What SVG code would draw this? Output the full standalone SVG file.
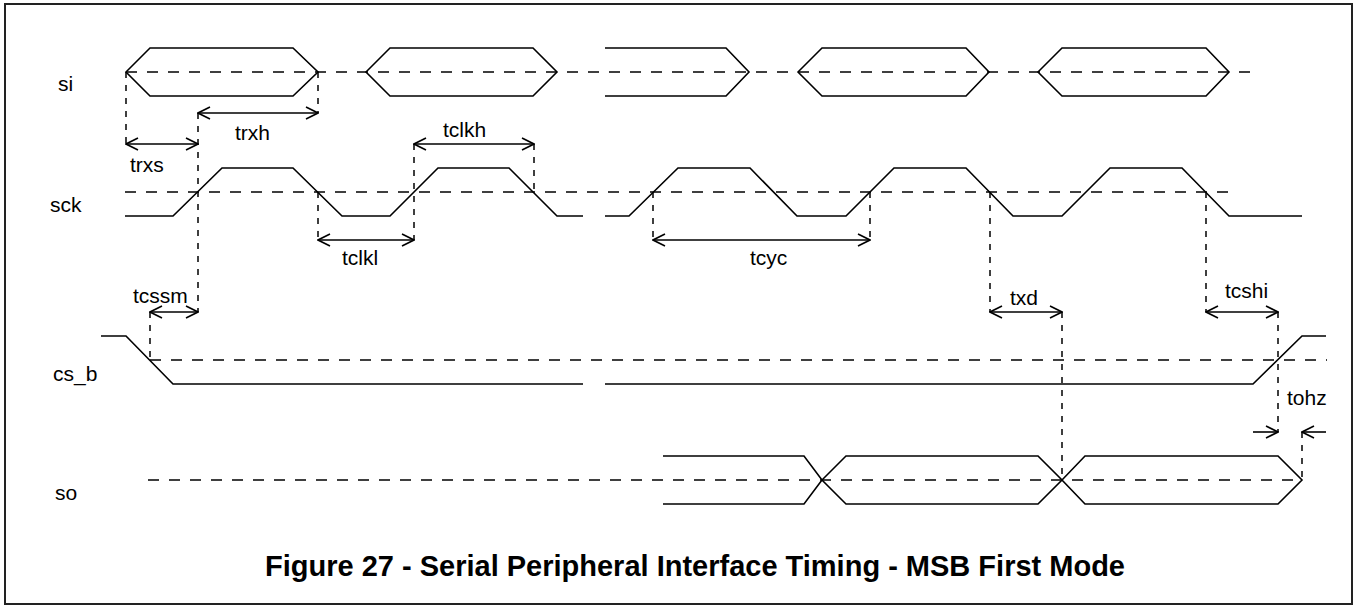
<svg xmlns="http://www.w3.org/2000/svg" width="1356" height="609" viewBox="0 0 1356 609">
<style>
.w{fill:none;stroke:#000;stroke-width:1.6;stroke-linejoin:miter}
.m{fill:none;stroke:#000;stroke-width:1.5;stroke-dasharray:11,10}
.v{fill:none;stroke:#000;stroke-width:1.5;stroke-dasharray:6,7}
.d{fill:none;stroke:#000;stroke-width:1.6}
.l{font-family:"Liberation Sans",Arial,sans-serif;font-size:21px;fill:#000}
.t{font-family:"Liberation Sans",Arial,sans-serif;font-size:29px;font-weight:bold;fill:#000}
</style>
<defs>
<marker id="ah" viewBox="0 0 14 14" refX="13" refY="7" markerWidth="14" markerHeight="14" orient="auto-start-reverse" markerUnits="userSpaceOnUse">
<path d="M1,1 L13,7 L1,13" fill="none" stroke="#000" stroke-width="1.6"/>
</marker>
</defs>
<rect x="5" y="4" width="1347" height="600" fill="#fff" stroke="#222" stroke-width="2"/>

<g id="sig-si">
<line class="m" x1="126" y1="72" x2="1255" y2="72"/>
<polygon class="w" points="126,72 150,48 293,48 318,72 293,96 150,96"/>
<polygon class="w" points="366,72 390,48 533,48 557,72 533,96 390,96"/>
<polyline class="w" points="605,48 726,48 749,72 726,96 605,96"/>
<polygon class="w" points="798,72 822,48 966,48 989,72 966,96 822,96"/>
<polygon class="w" points="1038,72 1062,48 1206,48 1229,72 1206,96 1062,96"/>
<text class="l" x="58" y="91">si</text>
</g>

<g id="sig-sck">
<line class="m" x1="125" y1="192" x2="1231" y2="192"/>
<polyline class="w" points="125,216 173,216 222,168 293,168 342,216 390,216 438,168 509,168 557,216 583,216"/>
<polyline class="w" points="605,216 629,216 678,168 750,168 797,216 846,216 894,168 966,168 1013,216 1062,216 1110,168 1182,168 1229,216 1302,216"/>
<text class="l" x="50" y="212">sck</text>
</g>

<g id="sig-cs_b">
<line class="m" x1="150" y1="360" x2="1327" y2="360"/>
<polyline class="w" points="101,336 126,336 173,384 583,384"/>
<polyline class="w" points="605,384 1253,384 1302,336 1326,336"/>
<text class="l" x="53" y="381">cs_b</text>
</g>

<g id="sig-so">
<line class="m" x1="148" y1="480" x2="1302" y2="480"/>
<polyline class="w" points="663,456 804,456 822,480 804,504 663,504"/>
<polygon class="w" points="822,480 846,456 1038,456 1062,480 1038,504 846,504"/>
<polygon class="w" points="1062,480 1085,456 1278,456 1302,480 1278,504 1085,504"/>
<text class="l" x="55" y="500">so</text>
</g>

<g id="connectors">
<line class="v" x1="126" y1="72" x2="126" y2="144"/>
<line class="v" x1="318" y1="72" x2="318" y2="113"/>
<line class="v" x1="318" y1="192" x2="318" y2="240"/>
<line class="v" x1="198" y1="113" x2="198" y2="312"/>
<line class="v" x1="414" y1="144" x2="414" y2="240"/>
<line class="v" x1="534" y1="144" x2="534" y2="192"/>
<line class="v" x1="653" y1="192" x2="653" y2="240"/>
<line class="v" x1="870" y1="192" x2="870" y2="240"/>
<line class="v" x1="990" y1="192" x2="990" y2="312"/>
<line class="v" x1="1206" y1="192" x2="1206" y2="312"/>
<line class="v" x1="150" y1="312" x2="150" y2="360"/>
<line class="v" x1="1062" y1="312" x2="1062" y2="480"/>
<line class="v" x1="1278" y1="312" x2="1278" y2="432"/>
<line class="v" x1="1302" y1="432" x2="1302" y2="480"/>

<line class="d" x1="198" y1="113" x2="318" y2="113" marker-start="url(#ah)" marker-end="url(#ah)"/>
<line class="d" x1="126" y1="144" x2="198" y2="144" marker-start="url(#ah)" marker-end="url(#ah)"/>
<line class="d" x1="414" y1="144" x2="534" y2="144" marker-start="url(#ah)" marker-end="url(#ah)"/>
<line class="d" x1="318" y1="240" x2="414" y2="240" marker-start="url(#ah)" marker-end="url(#ah)"/>
<line class="d" x1="653" y1="240" x2="870" y2="240" marker-start="url(#ah)" marker-end="url(#ah)"/>
<line class="d" x1="150" y1="312" x2="198" y2="312" marker-start="url(#ah)" marker-end="url(#ah)"/>
<line class="d" x1="990" y1="312" x2="1062" y2="312" marker-start="url(#ah)" marker-end="url(#ah)"/>
<line class="d" x1="1206" y1="312" x2="1278" y2="312" marker-start="url(#ah)" marker-end="url(#ah)"/>
<line class="d" x1="1253" y1="432" x2="1278" y2="432" marker-end="url(#ah)"/>
<line class="d" x1="1326" y1="432" x2="1302" y2="432" marker-end="url(#ah)"/>
</g>

<g id="labels">
<text class="l" x="235" y="140">trxh</text>
<text class="l" x="130" y="172">trxs</text>
<text class="l" x="443" y="137">tclkh</text>
<text class="l" x="342" y="265">tclkl</text>
<text class="l" x="750" y="265">tcyc</text>
<text class="l" x="133" y="303">tcssm</text>
<text class="l" x="1010" y="305">txd</text>
<text class="l" x="1225" y="298">tcshi</text>
<text class="l" x="1287" y="405">tohz</text>
</g>

<text class="t" x="695" y="576" text-anchor="middle">Figure 27 - Serial Peripheral Interface Timing - MSB First Mode</text>
</svg>
